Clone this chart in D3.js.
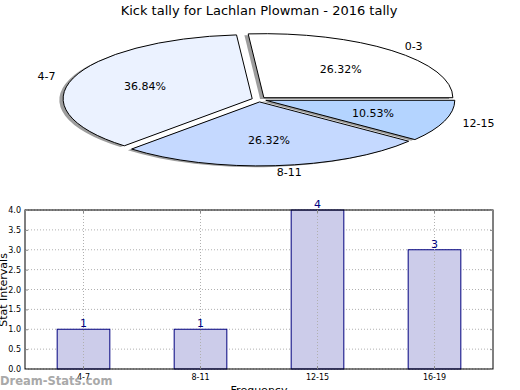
<!DOCTYPE html>
<html><head><meta charset="utf-8">
<script src="https://cdn.jsdelivr.net/npm/d3@7"></script>
<style>body{margin:0;background:#fff}svg{display:block}text{font-family:"DejaVu Sans",sans-serif}</style>
</head><body>
<svg id="c" width="520" height="390"></svg>
<script>
const pieLabels = ["0-3","4-7","8-11","12-15"];
const pieValues = [5,7,5,2];
const pieColors = ["#ffffff","#ebf2ff","#c5d9ff","#b4d4ff"];
const barCategories = ["4-7","8-11","12-15","16-19"];
const barValues = [1,1,4,3];
const yTicks = [0,0.5,1,1.5,2,2.5,3,3.5,4];
const title = "Kick tally for Lachlan Plowman - 2016 tally";

const svg = d3.select("#c");
svg.append("rect").attr("width",520).attr("height",390).attr("fill","#fff");

svg.append("text").attr("x",259).attr("y",15).attr("text-anchor","middle")
  .attr("font-size",13).text(title);

// ---- Pie ----
const cx = 259, cy = 99.5, rx = 189, ry = 64, explode = 0.038;
const total = d3.sum(pieValues);
let acc = 0;
const slices = pieValues.map((v,i)=>{
  const a1 = acc/total*2*Math.PI; acc += v; const a2 = acc/total*2*Math.PI;
  const mid = (a1+a2)/2;
  return {i, v, a1, a2, mid, dx: explode*Math.cos(mid), dy: -explode*Math.sin(mid)};
});
const arc = d3.arc().innerRadius(0).outerRadius(1);
const pathFor = s => arc({startAngle: Math.PI/2 - s.a2, endAngle: Math.PI/2 - s.a1});
const pieG = svg.append("g");
slices.forEach(s=>{
  pieG.append("path")
    .attr("transform",`translate(${cx + (s.dx-0.02)*rx},${cy + (s.dy+0.02)*ry}) scale(${rx},${ry})`)
    .attr("d", pathFor(s)).attr("fill","#4d4d4d").attr("opacity",0.55);
});
slices.forEach(s=>{
  pieG.append("path")
    .attr("transform",`translate(${cx + s.dx*rx},${cy + s.dy*ry}) scale(${rx},${ry})`)
    .attr("d", pathFor(s)).attr("fill",pieColors[s.i]).attr("stroke","#000")
    .attr("stroke-width",1).attr("vector-effect","non-scaling-stroke");
});
slices.forEach(s=>{
  const ox = cx + s.dx*rx, oy = cy + s.dy*ry;
  const lx = ox + 1.1*rx*Math.cos(s.mid), ly = oy - 1.1*ry*Math.sin(s.mid);
  svg.append("text").attr("x",lx).attr("y",ly).attr("dy","0.35em")
    .attr("text-anchor", Math.cos(s.mid) > 0 ? "start" : "end")
    .attr("font-size",11).text(pieLabels[s.i]);
  const px = ox + 0.6*rx*Math.cos(s.mid), py = oy - 0.6*ry*Math.sin(s.mid);
  svg.append("text").attr("x",px).attr("y",py).attr("dy","0.35em")
    .attr("text-anchor","middle").attr("font-size",11)
    .text((s.v/total*100).toFixed(2)+"%");
});

// ---- Bar chart ----
const L = 25, R = 493, T = 210, B = 369;
const x = d3.scaleBand().domain(barCategories).range([L,R]).padding(0);
const y = d3.scaleLinear().domain([0,4]).range([B,T]);
const g = svg.append("g");
g.selectAll(".gy").data(yTicks).join("line")
  .attr("x1",L).attr("x2",R).attr("y1",d=>y(d)).attr("y2",d=>y(d))
  .attr("stroke","#b0b0b0").attr("stroke-width",1).attr("stroke-dasharray","1,2");
const bw = x.bandwidth()*0.45;
g.selectAll(".bar").data(barValues).join("rect")
  .attr("x",(d,i)=>x(barCategories[i])+x.bandwidth()/2-bw/2)
  .attr("y",d=>y(d)).attr("width",bw).attr("height",d=>B-y(d))
  .attr("fill","#ccccea").attr("stroke","#00007f").attr("stroke-width",1);
g.selectAll(".gx").data(barCategories).join("line")
  .attr("x1",d=>x(d)+x.bandwidth()/2).attr("x2",d=>x(d)+x.bandwidth()/2)
  .attr("y1",T).attr("y2",B)
  .attr("stroke","#b0b0b0").attr("stroke-width",1).attr("stroke-dasharray","1,2");
g.selectAll(".vl").data(barValues).join("text")
  .attr("x",(d,i)=>x(barCategories[i])+x.bandwidth()/2).attr("y",d=>y(d)-2)
  .attr("text-anchor","middle").attr("font-size",11).attr("fill","#00007f").text(d=>d);
g.append("rect").attr("x",L).attr("y",T).attr("width",R-L).attr("height",B-T)
  .attr("fill","none").attr("stroke","#000").attr("stroke-width",1);
const yAxis = d3.axisLeft(y).tickValues(yTicks).tickFormat(d3.format(".1f")).tickSize(-3).tickPadding(4);
const ya = g.append("g").attr("transform",`translate(${L},0)`).call(yAxis);
ya.select(".domain").remove();
ya.selectAll("text").attr("font-size",8).attr("font-family","DejaVu Sans Condensed, DejaVu Sans");
ya.selectAll("line").attr("stroke","#888");
const yr = g.append("g").attr("transform",`translate(${R},0)`).call(d3.axisRight(y).tickValues(yTicks).tickSize(-3).tickFormat(""));
yr.select(".domain").remove(); yr.selectAll("line").attr("stroke","#888");
const xAxis = d3.axisBottom(x).tickSize(-3).tickPadding(5);
const xa = g.append("g").attr("transform",`translate(0,${B})`).call(xAxis);
xa.select(".domain").remove();
xa.selectAll("text").attr("font-size",8).attr("font-family","DejaVu Sans Condensed, DejaVu Sans");
xa.selectAll("line").attr("stroke","#888");
const xt = g.append("g").attr("transform",`translate(0,${T})`).call(d3.axisTop(x).tickSize(-3).tickFormat(""));
xt.select(".domain").remove(); xt.selectAll("line").attr("stroke","#888");

svg.append("text").attr("transform","translate(7,290) rotate(-90)").attr("text-anchor","middle")
  .attr("font-size",11).text("Stat Intervals");
svg.append("text").attr("x",259).attr("y",394).attr("text-anchor","middle")
  .attr("font-size",11).text("Frequency");
svg.append("text").attr("x",0).attr("y",385).attr("font-size",11.5).attr("font-weight","600")
  .attr("fill","#a0a0a0").attr("opacity",0.9).text("Dream-Stats.com");
</script>
</body></html>
